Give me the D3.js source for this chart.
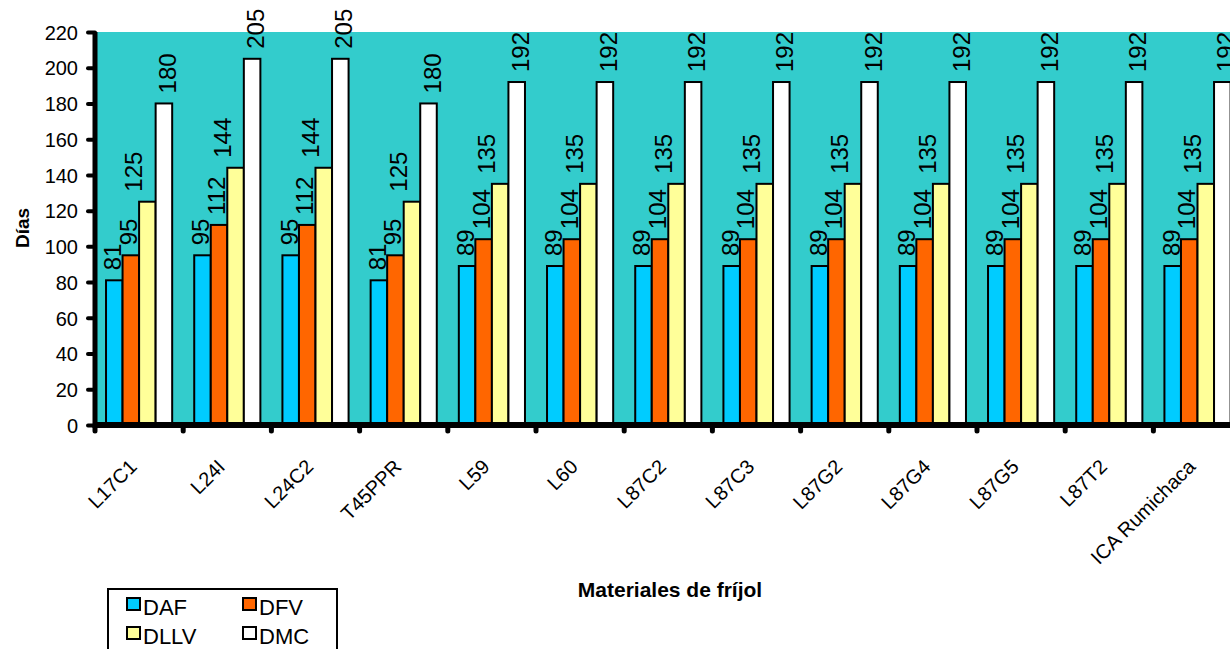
<!DOCTYPE html>
<html>
<head>
<meta charset="utf-8">
<script src="https://cdn.jsdelivr.net/npm/d3@7"></script>
<style>
  html, body { margin: 0; padding: 0; background: #ffffff; }
  svg { display: block; font-family: "Liberation Sans", Arial, sans-serif; }
</style>
</head>
<body>
<svg id="chart" width="1230" height="649"></svg>
<script>
// Bean materials and the four phenological stages (days)
const categories = ["L17C1", "L24I", "L24C2", "T45PPR", "L59", "L60", "L87C2",
                    "L87C3", "L87G2", "L87G4", "L87G5", "L87T2", "ICA Rumichaca"];
const seriesNames = ["DAF", "DFV", "DLLV", "DMC"];
const DAF  = [81, 95, 95, 81, 89, 89, 89, 89, 89, 89, 89, 89, 89];
const DFV  = [95, 112, 112, 95, 104, 104, 104, 104, 104, 104, 104, 104, 104];
const DLLV = [125, 144, 144, 125, 135, 135, 135, 135, 135, 135, 135, 135, 135];
const DMC  = [180, 205, 205, 180, 192, 192, 192, 192, 192, 192, 192, 192, 192];
const yTicks = [0, 20, 40, 60, 80, 100, 120, 140, 160, 180, 200, 220];

const seriesValues = [DAF, DFV, DLLV, DMC];
const colors = ["#00CCFF", "#FF6600", "#FFFF99", "#FFFFFF"];
const labelShift = [7, 6, -5, 12];   // horizontal nudge of the rotated value labels

const svg = d3.select("#chart");
const plotLeft = 95, plotTop = 32, plotBottom = 425, step = 88.2;

const x0 = d3.scaleBand().domain(categories)
  .range([plotLeft, plotLeft + step * categories.length]).padding(0);
const x1 = d3.scaleBand().domain(seriesNames)
  .range([x0.bandwidth() * 0.125, x0.bandwidth() * 0.875]).padding(0);
const y = d3.scaleLinear().domain([0, 220]).range([plotBottom, plotTop]);

// plot area
svg.append("rect")
  .attr("x", plotLeft).attr("y", plotTop)
  .attr("width", 1230 - plotLeft).attr("height", plotBottom - plotTop)
  .attr("fill", "#33CCCC");

// bars
const rows = categories.map((c, i) => ({ cat: c, vals: seriesNames.map((s, j) => ({ s, j, v: seriesValues[j][i] })) }));
const groups = svg.append("g").selectAll("g").data(rows).join("g")
  .attr("transform", d => `translate(${x0(d.cat)},0)`);

groups.selectAll("rect").data(d => d.vals).join("rect")
  .attr("x", d => x1(d.s))
  .attr("y", d => y(d.v))
  .attr("width", x1.bandwidth())
  .attr("height", d => y(0) - y(d.v))
  .attr("fill", d => colors[d.j])
  .attr("stroke", "#000").attr("stroke-width", 2);

groups.selectAll("text").data(d => d.vals).join("text")
  .attr("transform", d => `translate(${x1(d.s) + x1.bandwidth() / 2 + labelShift[d.j]},${y(d.v) - 10}) rotate(-90)`)
  .attr("text-anchor", "start")
  .attr("font-size", 24)
  .attr("fill", "#000")
  .text(d => d.v);

// y axis
const yAxis = svg.append("g")
  .attr("transform", `translate(${plotLeft},0)`)
  .call(d3.axisLeft(y).tickValues(yTicks).tickSize(7).tickPadding(10));
yAxis.select(".domain").remove();
yAxis.selectAll(".tick line").attr("stroke", "#000").attr("stroke-width", 4).attr("stroke-linecap", "round");
yAxis.selectAll(".tick text").attr("font-size", 20).attr("font-family", "Liberation Sans, Arial, sans-serif")
  .attr("fill", "#000").attr("dy", "0.36em");

// x axis (labels at category centres)
const xAxis = svg.append("g")
  .attr("transform", `translate(0,${plotBottom})`)
  .call(d3.axisBottom(x0).tickSize(0));
xAxis.select(".domain").remove();
xAxis.selectAll(".tick text")
  .attr("font-size", 20).attr("font-family", "Liberation Sans, Arial, sans-serif").attr("fill", "#000")
  .attr("y", null).attr("dy", null)
  .attr("text-anchor", "end")
  .attr("transform", "translate(-1,43) rotate(-45)");

// tick marks at category boundaries
svg.append("g").selectAll("line").data(categories).join("line")
  .attr("x1", d => x0(d)).attr("x2", d => x0(d))
  .attr("y1", plotBottom).attr("y2", plotBottom + 6)
  .attr("stroke", "#000").attr("stroke-width", 5).attr("stroke-linecap", "round");

// axis lines
svg.append("line").attr("x1", plotLeft).attr("x2", plotLeft).attr("y1", plotTop).attr("y2", plotBottom + 3)
  .attr("stroke", "#000").attr("stroke-width", 5);
svg.append("line").attr("x1", plotLeft - 2).attr("x2", 1230).attr("y1", plotBottom).attr("y2", plotBottom)
  .attr("stroke", "#000").attr("stroke-width", 6);

// axis titles
svg.append("text")
  .attr("transform", "translate(29,228) rotate(-90)")
  .attr("text-anchor", "middle").attr("font-weight", "bold").attr("font-size", 19)
  .text("Días");
svg.append("text")
  .attr("x", 670).attr("y", 597)
  .attr("text-anchor", "middle").attr("font-weight", "bold").attr("font-size", 21)
  .text("Materiales de fríjol");

// legend
const legend = svg.append("g");
legend.append("rect").attr("x", 108).attr("y", 589).attr("width", 229).attr("height", 80)
  .attr("fill", "#fff").attr("stroke", "#000").attr("stroke-width", 2);
const legendItems = legend.selectAll("g").data(seriesNames).join("g")
  .attr("transform", (d, i) => `translate(${127 + (i % 2) * 116},${598 + Math.floor(i / 2) * 29})`);
legendItems.append("rect").attr("width", 13).attr("height", 12)
  .attr("fill", (d, i) => colors[i]).attr("stroke", "#000").attr("stroke-width", 2);
legendItems.append("text").attr("x", 16).attr("y", 17)
  .attr("font-size", 22).attr("fill", "#000").text(d => d);
</script>
</body>
</html>
